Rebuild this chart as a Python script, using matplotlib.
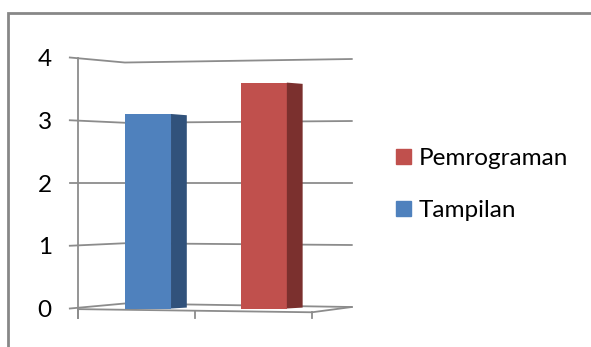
import matplotlib.pyplot as plt
from matplotlib.patches import Polygon, Patch, Rectangle

plt.rcParams['font.family'] = ['Lato', 'DejaVu Sans']

series = ["Tampilan", "Pemrograman"]
values = [3.1, 3.6]
front_colors = ["#4F81BD", "#C0504D"]
side_colors = ["#31527B", "#7B302E"]
yticks = [0, 1, 2, 3, 4]

W, H = 591, 347
fig = plt.figure(figsize=(W / 100, H / 100), dpi=100)

# outer chart frame (runs off the right and bottom edges)
fig.patches.append(Rectangle((8 / W, -0.2), 1.2, 1.2 - 12.5 / H,
                             transform=fig.transFigure, fill=False,
                             ec="#878787", lw=2))

ax = fig.add_axes([54.6 / W, 1 - 324.2 / H, 304.2 / W, 279.25 / H])
ax.set_xlim(-0.2, 2.4)
ax.set_ylim(-0.25, 4.2)
for s in ax.spines.values():
    s.set_visible(False)
ax.set_xticks([])
ax.set_yticks(yticks)
ax.tick_params(axis='y', length=0, pad=2, labelsize=17.5)

grid = "#8C8C8C"
# gridlines on the side wall and back wall
for v in yticks:
    xs = [-0.07, 0.4, 2.34]
    ys = [v, 2 + (v - 2) * 0.96, 2 + (v - 2) * 0.988]
    ax.plot(xs, ys, color=grid, lw=1.3, zorder=1, clip_on=False)

# floor front edge, value axis and category ticks
front = lambda x: -0.01 - 0.025 * x
ax.plot([0, 2.0, 2.34], [front(0), front(2.0), 0.024], color=grid, lw=1.3,
        zorder=1, clip_on=False)
ax.plot([0, 0], [-0.15, 4], color=grid, lw=1.3, zorder=1, clip_on=False)
for x in [0, 1, 2]:
    ax.plot([x, x], [front(x), -0.15], color=grid, lw=1.3, zorder=1,
            clip_on=False)

positions = [0.6, 1.59]
width = 0.39
depth = 0.135
ax.bar(positions, values, width=width, color=front_colors, zorder=3)
for p, v, c in zip(positions, values, side_colors):
    x1 = p + width / 2
    ax.add_patch(Polygon([(x1, v), (x1 + depth, v - 0.02),
                          (x1 + depth, 0.015), (x1, 0)],
                         closed=True, fc=c, ec="none", zorder=3))

handles = [Patch(color=c) for c in front_colors]
fig.legend(handles[::-1], series[::-1], loc='upper left',
           bbox_to_anchor=(396 / W, 1 - 148 / H), frameon=False,
           fontsize=17.5, handlelength=0.62, handleheight=0.62,
           handletextpad=0.3, labelspacing=1.28, borderpad=0,
           borderaxespad=0)

fig.savefig("out.png", dpi=100)
